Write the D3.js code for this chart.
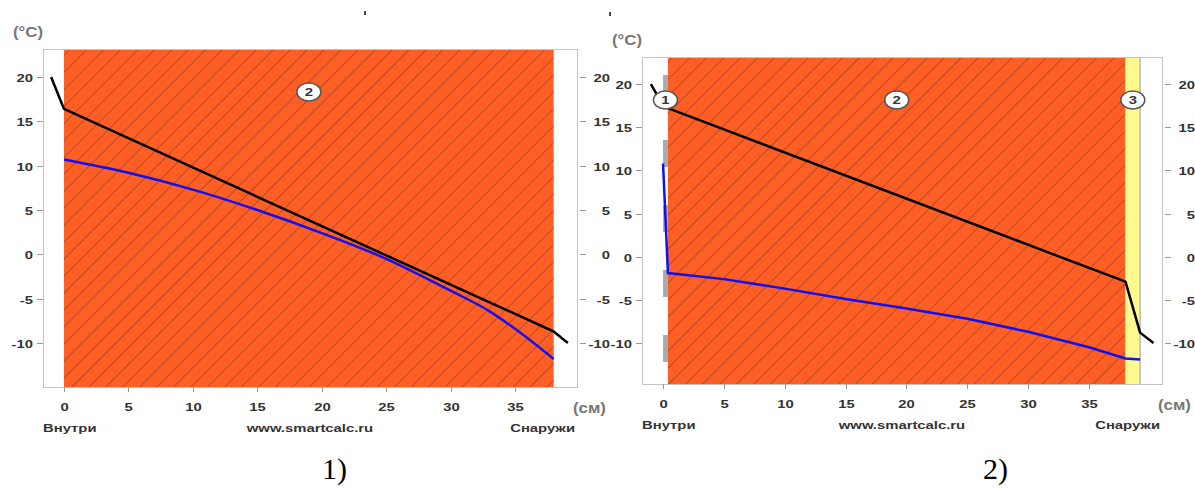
<!DOCTYPE html>
<html>
<head>
<meta charset="UTF-8">
<style>
  body { margin: 0; background: #fff; }
  svg { display: block; }
  text { font-family: "Liberation Sans", Arial, sans-serif; }
</style>
</head>
<body>
<svg></svg>
<script src="https://d3js.org/d3.v7.min.js"></script>
<script>
const width = 1195, height = 488;

// shared ticks
const yTicks = [-10, -5, 0, 5, 10, 15, 20];
const xTicks = [0, 5, 10, 15, 20, 25, 30, 35];

// chart 1: one layer
const c1Bounds = [0, 38];
const c1Names = ["2"];
const c1Kinds = ["brick"];
const c1TempX = [-1, 0, 38, 39.1];
const c1TempY = [20, 16.4, -8.7, -10];
const c1DewX = [0, 5, 10, 15, 20, 25, 30, 33, 35, 38];
const c1DewY = [10.7, 9.2, 7.3, 5.0, 2.4, -0.5, -4.1, -6.4, -8.4, -11.8];

// chart 2: three layers
const c2Bounds = [0, 0.4, 38.0, 39.2];
const c2Names = ["1", "2", "3"];
const c2Kinds = ["plaster", "brick", "insul"];
const c2TempX = [-1, 0, 0.4, 38, 39.2, 40.3];
const c2TempY = [20, 17.5, 17.2, -2.9, -8.8, -10];
const c2DewX = [0, 0.4, 5, 10, 15, 20, 25, 30, 35, 38, 39.2];
const c2DewY = [10.8, -1.9, -2.6, -3.7, -4.9, -6.0, -7.2, -8.7, -10.5, -11.8, -11.9];

const captions = ["1)", "2)"];

const SX = 1.35; // the source picture is stretched sideways

const svg = d3.select("svg")
    .attr("width", width)
    .attr("height", height);

const defs = svg.append("defs");
const pat = defs.append("pattern")
    .attr("id", "hatch")
    .attr("patternUnits", "userSpaceOnUse")
    .attr("width", 12)
    .attr("height", 12)
    .attr("patternTransform", "rotate(45)");
pat.append("rect").attr("width", 12).attr("height", 12).attr("fill", "#FF5E24");
pat.append("line")
    .attr("x1", 0).attr("y1", 0).attr("x2", 0).attr("y2", 12)
    .attr("stroke", "rgba(70,45,40,0.6)")
    .attr("stroke-width", 1.3);

function txt(g, x, y, s, o = {}) {
    return g.append("text")
        .attr("transform", `translate(${x},${y}) scale(${o.sx || SX},1)`)
        .attr("text-anchor", o.anchor || "start")
        .style("font-size", (o.size || 11) + "px")
        .style("font-weight", o.weight || "bold")
        .attr("fill", o.fill || "#333")
        .text(s);
}

const charts = [
    { box: [43, 49, 577, 387], xDom: [-1.63, 39.81], yDom: [-14.96, 23.16],
      bounds: c1Bounds, names: c1Names, kinds: c1Kinds,
      tx: c1TempX, ty: c1TempY, dx: c1DewX, dy: c1DewY, curve: d3.curveMonotoneX,
      cap: [322, 479] },
    { box: [642, 57, 1162, 384], xDom: [-1.73, 41.0], yDom: [-14.75, 23.13],
      bounds: c2Bounds, names: c2Names, kinds: c2Kinds,
      tx: c2TempX, ty: c2TempY, dx: c2DewX, dy: c2DewY, curve: d3.curveLinear,
      cap: [983, 479] }
];

charts.forEach((c, ci) => {
    const [x0, y0, x1, y1] = c.box;
    const x = d3.scaleLinear().domain(c.xDom).range([x0, x1]);
    const y = d3.scaleLinear().domain(c.yDom).range([y1, y0]);
    const g = svg.append("g");

    // layers
    d3.range(c.names.length).forEach(i => {
        const a = x(c.bounds[i]), b = x(c.bounds[i + 1]);
        const k = c.kinds[i];
        if (k === "brick") {
            g.append("rect").attr("x", a).attr("y", y0).attr("width", b - a).attr("height", y1 - y0)
                .attr("fill", "url(#hatch)");
        } else if (k === "insul") {
            g.append("rect").attr("x", a).attr("y", y0).attr("width", b - a).attr("height", y1 - y0)
                .attr("fill", "#FFF98E");
            g.append("line").attr("x1", b).attr("x2", b).attr("y1", y0).attr("y2", y1)
                .attr("stroke", "#999").attr("stroke-width", 1);
        } else {
            g.append("line").attr("x1", (a + b) / 2).attr("x2", (a + b) / 2)
                .attr("y1", y0 + 18).attr("y2", y1)
                .attr("stroke", "#aaa").attr("stroke-width", b - a)
                .attr("stroke-dasharray", "27,38");
        }
    });

    // frame
    g.append("rect").attr("x", x0 + 0.5).attr("y", y0 + 0.5)
        .attr("width", x1 - x0).attr("height", y1 - y0)
        .attr("fill", "none").attr("stroke", "#c4c4c4");

    // ticks
    yTicks.forEach(t => {
        const yy = Math.round(y(t)) + 0.5;
        g.append("line").attr("x1", x0 - 6).attr("x2", x0).attr("y1", yy).attr("y2", yy)
            .attr("stroke", "#999");
        g.append("line").attr("x1", x1 + 3).attr("x2", x1 + 9).attr("y1", yy).attr("y2", yy)
            .attr("stroke", "#999");
        txt(g, x0 - 10, yy + 4, t, { anchor: "end" });
        txt(g, x1 + 33, yy + 4, t, { anchor: "end" });
    });
    xTicks.forEach(t => {
        const xx = Math.round(x(t)) + 0.5;
        g.append("line").attr("x1", xx).attr("x2", xx).attr("y1", y1).attr("y2", y1 + 5)
            .attr("stroke", "#999");
        txt(g, xx, y1 + 24, t, { anchor: "middle" });
    });

    // curves
    const line = d3.line().x(d => x(d[0])).y(d => y(d[1]));
    g.append("path").datum(d3.zip(c.dx, c.dy))
        .attr("d", line.curve(c.curve))
        .attr("fill", "none").attr("stroke", "#1010f0").attr("stroke-width", 2.5);
    g.append("path").datum(d3.zip(c.tx, c.ty))
        .attr("d", line.curve(d3.curveLinear))
        .attr("fill", "none").attr("stroke", "#000").attr("stroke-width", 2.5)
        .attr("stroke-linejoin", "round");

    // layer markers
    d3.range(c.names.length).forEach(i => {
        const cx = x((c.bounds[i] + c.bounds[i + 1]) / 2);
        const cy = y0 + 43;
        g.append("ellipse").attr("cx", cx).attr("cy", cy).attr("rx", 12).attr("ry", 9)
            .attr("fill", "#fff").attr("stroke", "#555").attr("stroke-width", 1.5);
        txt(g, cx, cy + 4, c.names[i], { anchor: "middle", size: 11 });
    });

    // labels
    txt(g, x0 - 30, y0 - 12, "(°C)", { size: 14, sx: 1.2, fill: "#777" });
    txt(g, x1 - 4, y1 + 26, "(см)", { size: 14, sx: 1.2, fill: "#777" });
    txt(g, x0, y1 + 45, "Внутри");
    txt(g, (x0 + x1) / 2, y1 + 45, "www.smartcalc.ru", { anchor: "middle" });
    txt(g, x1 - 2, y1 + 45, "Снаружи", { anchor: "end" });

    // caption
    svg.append("text").attr("x", c.cap[0]).attr("y", c.cap[1])
        .style("font-family", "'Liberation Serif', 'Times New Roman', serif")
        .style("font-size", "30px").attr("fill", "#000")
        .text(captions[ci]);
});

// small stray marks above the charts
[[364, 11], [609, 12]].forEach(p => {
    svg.append("rect").attr("x", p[0]).attr("y", p[1]).attr("width", 2).attr("height", 4)
        .attr("fill", "#445");
});
</script>
</body>
</html>
